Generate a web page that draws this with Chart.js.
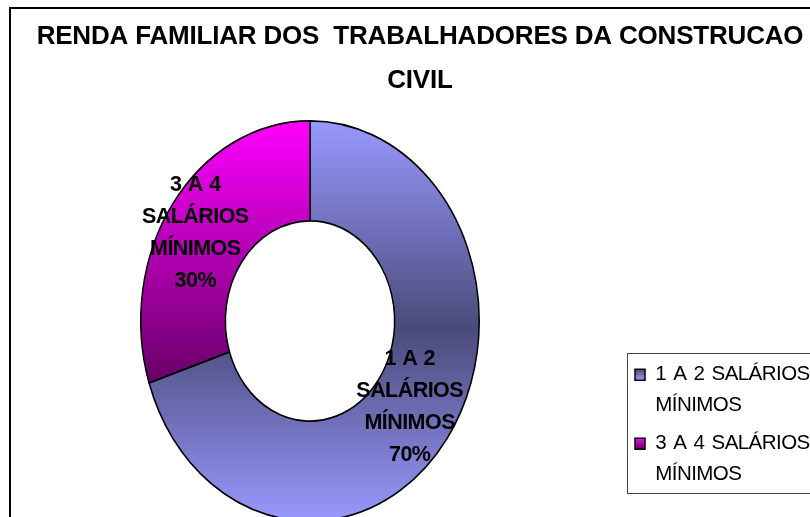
<!DOCTYPE html>
<html lang="en">

<head>
    <meta charset="UTF-8" />
    <title>Renda familiar</title>
    <script src="https://cdn.jsdelivr.net/npm/chart.js"></script>
    <style>
        html, body {
            margin: 0;
            height: 100%;
            overflow: hidden;
            background: #fff;
        }

        #chart-frame {
            position: absolute;
            left: 9px;
            top: 7px;
            width: 818px;
            height: 540px;
            border: 2px solid #000;
        }
    </style>
</head>

<body>
    <div id="chart-frame"><canvas id="renda" width="818" height="540"></canvas></div>

    <script>
        const chartTitle = ['RENDA FAMILIAR DOS  TRABALHADORES DA CONSTRUCAO', 'CIVIL'];
        const categories = ['1 A 2 SALÁRIOS MÍNIMOS', '3 A 4 SALÁRIOS MÍNIMOS'];
        const legendLines = [['1 A 2 SALÁRIOS', 'MÍNIMOS'], ['3 A 4 SALÁRIOS', 'MÍNIMOS']];
        const sliceLabels = [['1 A 2', 'SALÁRIOS', 'MÍNIMOS'], ['3 A 4', 'SALÁRIOS', 'MÍNIMOS']];
        const values = [70, 30];

        // the original pie is stretched vertically, chart.js only draws circles
        const stretchY = 1.183;

        function sliceFill(c) {
            const area = c.chart.chartArea;
            if (!area) return '#9999ff';
            const g = c.chart.ctx.createLinearGradient(0, area.top, 0, area.bottom);
            if (c.dataIndex === 0) {
                g.addColorStop(0, '#9999ff');
                g.addColorStop(0.52, '#4a4a7a');
                g.addColorStop(1, '#9999ff');
            } else {
                g.addColorStop(0, '#ff00ff');
                g.addColorStop(0.66, '#660066');
                g.addColorStop(1, '#660066');
            }
            return g;
        }

        function markerFill(ctx, i) {
            const top = 360 + i * 69;
            const g = ctx.createLinearGradient(0, top, 0, top + 11);
            g.addColorStop(0, i === 0 ? '#4a4a7a' : '#ff00ff');
            g.addColorStop(1, i === 0 ? '#9999ff' : '#660066');
            return g;
        }

        function setSpacing(ctx, letter, word) {
            ctx.letterSpacing = letter;
            ctx.wordSpacing = word;
        }

        const stretchPlugin = {
            id: 'stretch',
            afterLayout(chart) {
                // padding squeezes the title too, give it the full width back
                const title = chart.titleBlock;
                title.left = 0;
                title.right = chart.width;
                title.width = chart.width;

                // legend sits in its own box low on the right, cut off by the window
                const legend = chart.legend;
                const w = legend.width, h = legend.height;
                legend.left = 617;
                legend.top = 348.5;
                legend.right = legend.left + w;
                legend.bottom = legend.top + h;

                // title and legend need different tracking
                if (!legend.drawPlain) {
                    legend.drawPlain = legend.draw;
                    legend.draw = function () {
                        setSpacing(this.ctx, '-0.55px', '2px');
                        this.drawPlain();
                        setSpacing(this.ctx, '0px', '0px');
                    };
                    title.drawPlain = title.draw;
                    title.draw = function () {
                        setSpacing(this.ctx, '-0.19px', '0px');
                        this.drawPlain();
                        setSpacing(this.ctx, '0px', '0px');
                    };
                }
            },
            beforeDatasetsDraw(chart) {
                const { ctx, chartArea } = chart;
                const cy = (chartArea.top + chartArea.bottom) / 2;
                ctx.save();
                ctx.translate(0, cy);
                ctx.scale(1, stretchY);
                ctx.translate(0, -cy);
            },
            afterDatasetsDraw(chart) {
                const { ctx, chartArea } = chart;
                ctx.restore();

                const cy = (chartArea.top + chartArea.bottom) / 2;
                const total = values.reduce((a, b) => a + b, 0);
                const shiftX = [-3, -12];
                const shiftY = [0, 2];
                ctx.save();
                ctx.font = 'bold 21.5px "Liberation Sans"';
                setSpacing(ctx, '-0.55px', '1px');
                ctx.fillStyle = '#000';
                ctx.textAlign = 'center';
                ctx.textBaseline = 'middle';
                chart.getDatasetMeta(0).data.forEach((arc, i) => {
                    const pos = arc.tooltipPosition();
                    const lines = sliceLabels[i].concat(Math.round(values[i] / total * 100) + '%');
                    const y = cy + (pos.y - cy) * stretchY - 48 - 2 + shiftY[i];
                    lines.forEach((line, n) => {
                        ctx.fillText(line, pos.x + shiftX[i], y + n * 32);
                    });
                });
                ctx.restore();
                setSpacing(ctx, '0px', '0px');

                // legend frame
                ctx.save();
                ctx.strokeStyle = '#444';
                ctx.lineWidth = 1;
                ctx.strokeRect(616.5, 344.5, 300, 140);
                ctx.restore();
            }
        };

        new Chart(document.getElementById('renda'), {
            type: 'doughnut',
            data: {
                labels: categories,
                datasets: [{
                    data: values,
                    backgroundColor: sliceFill,
                    borderColor: '#000',
                    borderWidth: 1.5
                }]
            },
            options: {
                responsive: false,
                animation: false,
                cutout: '50%',
                layout: { padding: { left: 129, right: 349, top: 0, bottom: 58 } },
                plugins: {
                    title: {
                        display: true,
                        text: chartTitle,
                        color: '#000',
                        font: { family: '"Liberation Sans"', size: 26, weight: 'bold', lineHeight: 1.6923 },
                        padding: { top: 6, bottom: 48 }
                    },
                    legend: {
                        position: 'chartArea',
                        align: 'start',
                        labels: {
                            color: '#000',
                            font: { family: '"Liberation Sans"', size: 20.5, lineHeight: 1.512 },
                            boxWidth: 10,
                            boxHeight: 11,
                            padding: 7,
                            generateLabels(chart) {
                                return legendLines.map((text, i) => ({
                                    text,
                                    fillStyle: markerFill(chart.ctx, i),
                                    strokeStyle: '#000',
                                    lineWidth: 1.5,
                                    index: i
                                }));
                            }
                        }
                    },
                    tooltip: { enabled: false }
                }
            },
            plugins: [stretchPlugin]
        });
    </script>
</body>

</html>
